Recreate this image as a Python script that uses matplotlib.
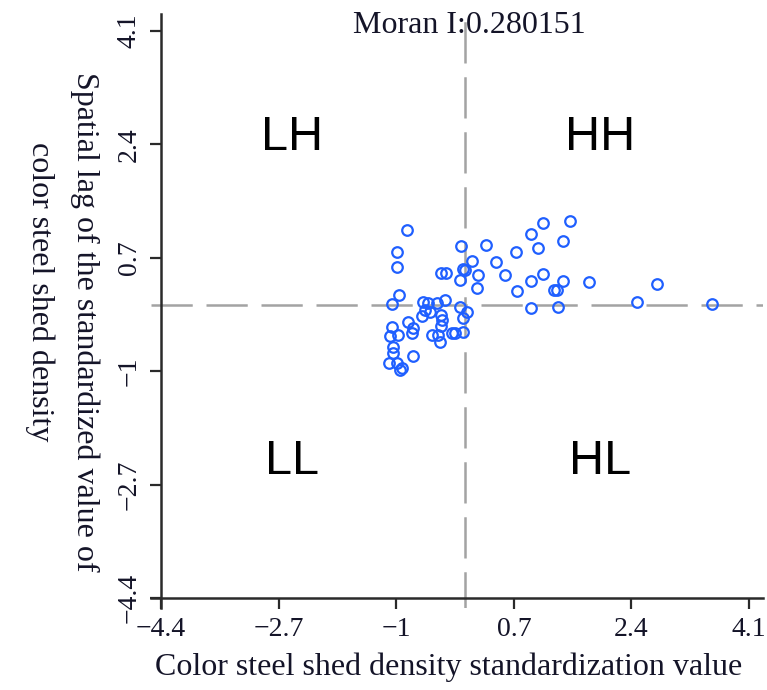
import matplotlib
matplotlib.use('Agg')
import matplotlib.pyplot as plt

# Standardized value (x) and spatial lag (y)
x_vals = [-0.849, -0.994, -0.985, -0.069, 0.292, 0.099, 0.441, 0.726, 0.942, 1.116,
          1.510, 1.052, 1.405, -0.354, -0.282, -0.040, -0.007, -0.079, 0.185, 0.571,
          0.162, 0.740, 0.942, 1.116, 1.414, 1.279, 1.318, 1.785, 0.942, 1.341,
          -0.956, -1.066, -0.610, -0.537, -0.416, -0.296, -0.585, -0.513, -0.633, -0.358,
          -0.344, -0.354, -0.079, 0.026, -0.032, -0.032, -0.151, -0.199, -0.826, -0.754,
          -0.777, -1.066, -1.091, -0.975, -0.488, -0.393, -0.368, -1.052, -1.043, -0.754,
          -1.101, -0.994, -0.922, -0.946, 2.772, 2.474, 3.558]
y_vals = [1.116, 0.782, 0.566, 0.881, 0.892, 0.652, 0.641, 0.782, 1.052, 1.217,
          1.251, 0.842, 0.952, 0.476, 0.476, 0.532, 0.517, 0.367, 0.442, 0.442,
          0.242, 0.206, 0.352, 0.452, 0.352, 0.217, 0.217, 0.341, -0.057, -0.033,
          0.142, 0.003, 0.042, 0.018, 0.018, 0.067, -0.083, -0.108, -0.173, -0.158,
          -0.233, -0.323, -0.033, -0.108, -0.207, -0.408, -0.432, -0.432, -0.258, -0.357,
          -0.432, -0.333, -0.473, -0.458, -0.458, -0.458, -0.558, -0.633, -0.732, -0.773,
          -0.873, -0.882, -0.957, -0.982, 0.307, 0.033, 0.003]

tick_values = [-4.4, -2.7, -1, 0.7, 2.4, 4.1]
tick_labels = ['\u22124.4', '\u22122.7', '\u22121', '0.7', '2.4', '4.1']
moran_i = 0.280151
quadrant_names = ['LH', 'HH', 'LL', 'HL']

serif = ['Liberation Serif', 'DejaVu Serif']
sans = ['Liberation Sans', 'DejaVu Sans']
text_color = '#141428'

fig = plt.figure(figsize=(7.67, 6.9), dpi=100)
ax = fig.add_axes([0.1964, 0.1188, 0.7982, 0.8604])
ax.set_xlim(-4.55, 4.3)
ax.set_ylim(-4.55, 4.35)

for s in ['top', 'right']:
    ax.spines[s].set_visible(False)
ax.spines['left'].set_position(('data', -4.4))
ax.spines['bottom'].set_position(('data', -4.4))
for s in ['left', 'bottom']:
    ax.spines[s].set_color('#2a2a2a')
    ax.spines[s].set_linewidth(1.8)

ax.axvline(0, color='#a3a3a3', lw=1.8, linestyle=(2, (16.5, 5.5)), zorder=1)
ax.axhline(0, color='#a3a3a3', lw=1.8, linestyle=(0, (16.5, 5.5)), zorder=1)

ax.plot(x_vals, y_vals, linestyle='none', marker='o', ms=7.6, mew=1.6,
        mfc='none', mec='#1f5fff', zorder=3)

ax.set_xticks(tick_values)
ax.set_xticklabels(tick_labels, family=serif, fontsize=20, color=text_color)
ax.set_yticks(tick_values)
ax.set_yticklabels(tick_labels, family=serif, fontsize=20, rotation=90, va='center',
                   color=text_color)
ax.tick_params(axis='both', direction='out', length=8, width=1.6, color='#2a2a2a', pad=6)

ax.text(0.05, 4.19, 'Moran I:' + f'{moran_i:.6f}', family=serif, fontsize=23,
        ha='center', va='center', color=text_color)

qpos = [(-2.5, 2.5), (1.95, 2.5), (-2.5, -2.35), (1.95, -2.35)]
for name, (qx, qy) in zip(quadrant_names, qpos):
    ax.text(qx, qy, name, family=sans, fontsize=35, ha='center', va='center')

fig.text(449 / 767, 1 - 667 / 690, 'Color steel shed density standardization value',
         family=serif, fontsize=23, ha='center', va='center', color=text_color)
fig.text(85 / 767, 1 - 322 / 690, 'Spatial lag of the standardized value of',
         family=serif, fontsize=23, ha='center', va='center', rotation=270,
         color=text_color)
fig.text(40 / 767, 1 - 292 / 690, 'color steel shed density',
         family=serif, fontsize=23, ha='center', va='center', rotation=270,
         color=text_color)

fig.savefig('out.png', dpi=100)
